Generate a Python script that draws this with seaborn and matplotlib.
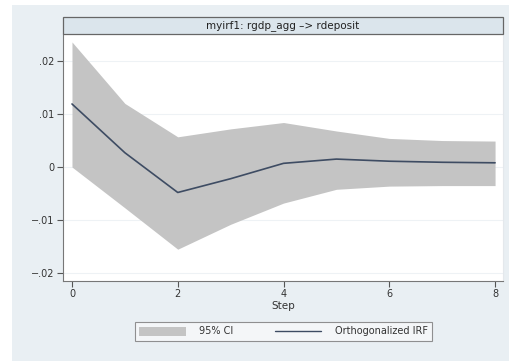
import matplotlib
matplotlib.use("Agg")
import matplotlib.pyplot as plt
import seaborn as sns
import pandas as pd
from matplotlib.patches import Rectangle, Patch
from matplotlib.lines import Line2D

# Data
steps = [0, 1, 2, 3, 4, 5, 6, 7, 8]
irf = [0.0119, 0.0027, -0.0048, -0.0022, 0.0007, 0.0015, 0.0011, 0.0009, 0.0008]
ci_upper = [0.0236, 0.0120, 0.0057, 0.0072, 0.0084, 0.0068, 0.0054, 0.0050, 0.0049]
ci_lower = [0.0000, -0.0077, -0.0155, -0.0108, -0.0068, -0.0042, -0.0036, -0.0035, -0.0035]
yticks = [-0.02, -0.01, 0, 0.01, 0.02]
ytick_labels = ["\u2212.02", "\u2212.01", "0", ".01", ".02"]
xticks = [0, 2, 4, 6, 8]
title = "myirf1: rgdp_agg \u2013> rdeposit"

df = pd.DataFrame({"step": steps, "irf": irf, "lo": ci_lower, "hi": ci_upper})

sns.set_style("white")
plt.rcParams["font.family"] = ["DejaVu Sans"]

W, H = 510, 361
fig = plt.figure(figsize=(W / 100, H / 100), dpi=100, facecolor="white")

bg = "#e9eff3"
fig.patches.append(Rectangle((12 / W, 0), 1 - 12 / W, 1 - 5 / H, transform=fig.transFigure,
                             facecolor=bg, edgecolor="none", zorder=-10))

L, R, T, B = 63, 503, 34, 281
ax = fig.add_axes([L / W, 1 - B / H, (R - L) / W, (B - T) / H])
ax.set_facecolor("white")

ax.fill_between(df["step"], df["lo"], df["hi"], color="#c4c4c4", linewidth=0, zorder=2)
sns.lineplot(data=df, x="step", y="irf", ax=ax, color="#3e4c63", linewidth=1.2, zorder=3)

ax.set_xlim(-0.17, 8.15)
ax.set_ylim(-0.0215, 0.0251)
ax.set_yticks(yticks)
ax.set_yticklabels(ytick_labels)
ax.set_xticks(xticks)
ax.set_xticklabels([str(x) for x in xticks])
for y in yticks:
    ax.axhline(y, color="#eef2f5", linewidth=0.8, zorder=1)

ax.tick_params(axis="both", direction="out", length=4, width=0.8, color="#555555",
               labelsize=7, labelcolor="#333333", pad=2)
ax.tick_params(axis="y", left=True)
ax.tick_params(axis="x", bottom=True)
ax.spines["top"].set_visible(False)
ax.spines["left"].set_color("#777777")
ax.spines["bottom"].set_color("#777777")
ax.spines["right"].set_color("#e4e8ec")
ax.spines["left"].set_linewidth(0.8)
ax.spines["bottom"].set_linewidth(0.8)
ax.set_xlabel("Step", fontsize=7.5, color="#333333", labelpad=1)
ax.set_ylabel("")

# Title strip
fig.patches.append(Rectangle((L / W, 1 - 34 / H), (R - L) / W, 17 / H, transform=fig.transFigure,
                             facecolor="#dbe5ec", edgecolor="#666666", linewidth=0.9, zorder=5))
fig.text((L + R) / 2 / W, 1 - 25.5 / H, title, ha="center", va="center", fontsize=7.5,
         color="#222222", zorder=6)

handles = [Patch(facecolor="#c4c4c4", edgecolor="none"),
           Line2D([0], [0], color="#3e4c63", linewidth=1.0)]
leg = fig.legend(handles, ["95% CI", "Orthogonalized IRF"], loc="center",
                 bbox_to_anchor=((135 + 432) / 2 / W, 1 - 331.5 / H), ncol=2,
                 fontsize=7, frameon=True, fancybox=False, handlelength=4.8,
                 handleheight=1.1, columnspacing=4.2, handletextpad=1.4, borderpad=0.45)
leg.get_frame().set_edgecolor("#777777")
leg.get_frame().set_facecolor("#f7f9fa")
leg.get_frame().set_linewidth(0.8)
for t in leg.get_texts():
    t.set_color("#333333")

fig.savefig("out.png", dpi=100, facecolor="white")
